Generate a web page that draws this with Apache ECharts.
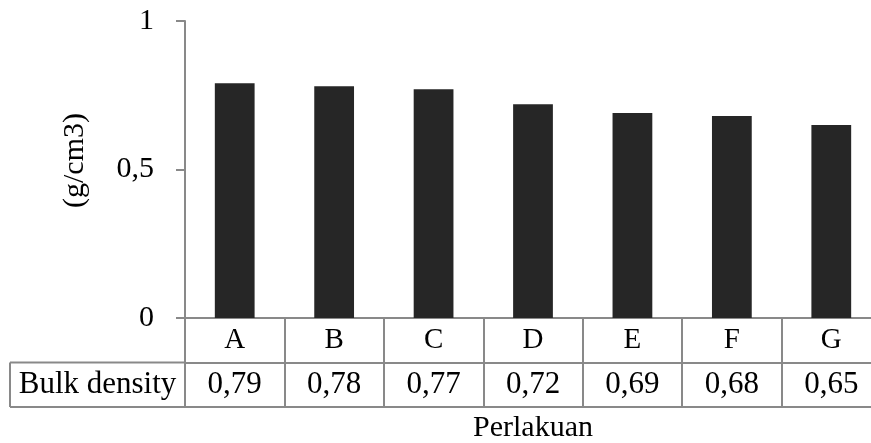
<!DOCTYPE html>
<html>
<head>
<meta charset="utf-8">
<script src="https://cdn.jsdelivr.net/npm/echarts@6/dist/echarts.min.js"></script>
<style>
html,body{margin:0;padding:0;background:#fff;}
#chart{width:871px;height:443px;}
</style>
</head>
<body>
<div id="chart"></div>
<script>
// ---- data ----
const categories = ['A', 'B', 'C', 'D', 'E', 'F', 'G'];
const bulkDensity = [0.79, 0.78, 0.77, 0.72, 0.69, 0.68, 0.65];
const rowLabel = 'Bulk density';
const yAxisName = '(g/cm3)';
const xAxisName = 'Perlakuan';
const yMin = 0, yMax = 1, yInterval = 0.5;

// ---- layout / style ----
const FONT = '"Liberation Serif", "Times New Roman", serif';
const LINE = '#898989';
const gridLeft = 185, gridTop = 21, gridWidth = 696, gridHeight = 297;
const rowH = 44.5;
const cellLeft = 10;
const fmt = v => String(v).replace('.', ',');

const chart = echarts.init(document.getElementById('chart'));
const axisY = gridTop + gridHeight;

chart.setOption({
  animation: false,
  backgroundColor: '#fff',
  grid: { left: gridLeft, top: gridTop, width: gridWidth, height: gridHeight,
          containLabel: false, outerBoundsMode: 'none' },
  xAxis: [
    {
      type: 'category', data: categories, gridIndex: 0, position: 'bottom',
      axisLine: { show: true, lineStyle: { color: LINE, width: 2 } },
      axisTick: { show: true, length: rowH * 2, lineStyle: { color: LINE, width: 2 } },
      axisLabel: { margin: 0, fontSize: 29, lineHeight: rowH, color: '#000', fontFamily: FONT }
    },
    {
      type: 'category', data: categories, gridIndex: 0, position: 'bottom', offset: rowH,
      axisLine: { show: true, lineStyle: { color: LINE, width: 2 } },
      axisTick: { show: false },
      axisLabel: { margin: 0, fontSize: 31, lineHeight: rowH, color: '#000', fontFamily: FONT,
        formatter: (v, i) => fmt(bulkDensity[i]) }
    },
    {
      type: 'category', data: categories, gridIndex: 0, position: 'bottom', offset: rowH * 2,
      axisLine: { show: true, lineStyle: { color: LINE, width: 2 } },
      axisTick: { show: false },
      axisLabel: { show: false },
      name: xAxisName, nameLocation: 'middle', nameGap: 6,
      nameTextStyle: { fontSize: 30, color: '#000', fontFamily: FONT, verticalAlign: 'top' }
    }
  ],
  yAxis: {
    type: 'value', min: yMin, max: yMax, interval: yInterval,
    axisLine: { show: true, lineStyle: { color: LINE, width: 2 } },
    axisTick: { show: true, length: 9, lineStyle: { color: LINE, width: 2 } },
    splitLine: { show: false },
    axisLabel: { margin: 31, fontSize: 30, color: '#000', fontFamily: FONT, formatter: v => fmt(v) },
    name: yAxisName, nameLocation: 'middle', nameGap: 95, nameRotate: 90,
    nameTextStyle: { fontSize: 30, color: '#000', fontFamily: FONT, padding: [0, 0, 0, 18] }
  },
  series: [{
    type: 'bar', xAxisIndex: 0, data: bulkDensity, barWidth: '40%',
    itemStyle: { color: '#262626' }
  }],
  graphic: [
    { type: 'line', shape: { x1: cellLeft, y1: axisY + rowH, x2: gridLeft, y2: axisY + rowH }, style: { stroke: LINE, lineWidth: 2 } },
    { type: 'line', shape: { x1: cellLeft, y1: axisY + rowH * 2, x2: gridLeft, y2: axisY + rowH * 2 }, style: { stroke: LINE, lineWidth: 2 } },
    { type: 'line', shape: { x1: cellLeft, y1: axisY + rowH, x2: cellLeft, y2: axisY + rowH * 2 }, style: { stroke: LINE, lineWidth: 2 } },
    { type: 'line', shape: { x1: gridLeft, y1: axisY + rowH, x2: gridLeft, y2: axisY + rowH * 2 }, style: { stroke: LINE, lineWidth: 2 } },
    { type: 'text', x: (cellLeft + gridLeft) / 2, y: axisY + rowH * 1.5,
      style: { text: rowLabel, fontSize: 31, fontFamily: FONT, fill: '#000', align: 'center', verticalAlign: 'middle' } }
  ]
});
</script>
</body>
</html>
